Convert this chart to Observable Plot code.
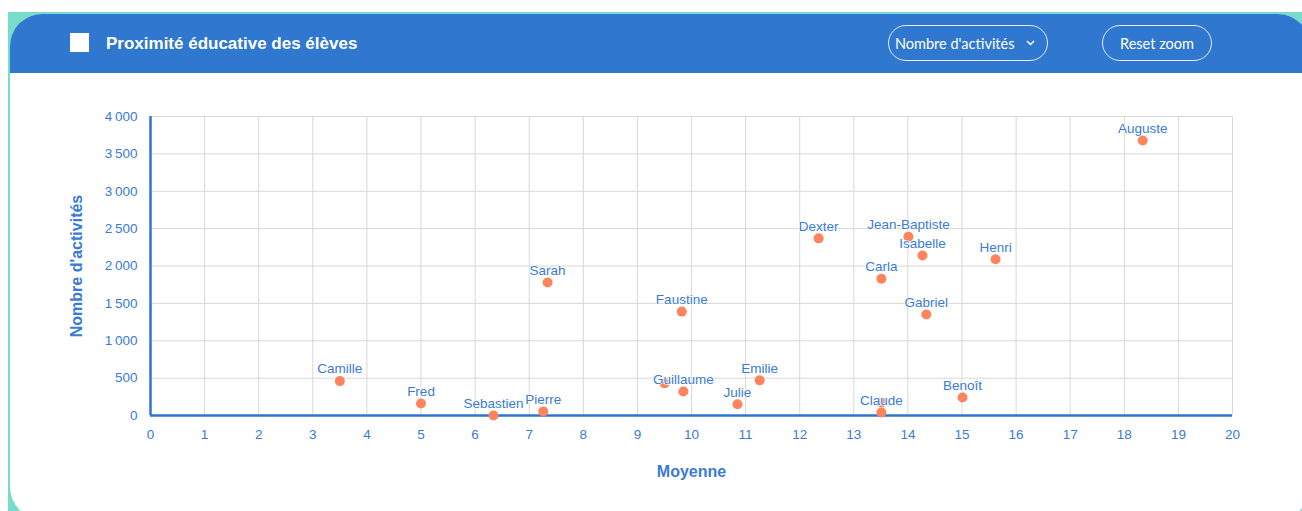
<!DOCTYPE html>
<html>
<head>
<meta charset="utf-8">
<script src="https://cdn.jsdelivr.net/npm/d3@7"></script>
<script src="https://cdn.jsdelivr.net/npm/@observablehq/plot@0.6"></script>
<style>
  html, body { margin: 0; padding: 0; width: 1302px; height: 511px; overflow: hidden; background: #fff; }
  #teal { position: absolute; left: 8px; top: 12px; width: 1294px; height: 499px; background: #78dcca; }
  #card { position: absolute; left: 10px; top: 14px; width: 1300px; height: 505px; background: #fff; border-radius: 32px; overflow: hidden; }
  #header { position: absolute; left: 0; top: 0; width: 100%; height: 59px; background: #3077cf; }
  #square { position: absolute; left: 60px; top: 19px; width: 19px; height: 19px; background: #fff; }
  #title { position: absolute; left: 96px; top: 20px; font: bold 17px "Liberation Sans", Arial, sans-serif; color: #fff; }
  .btn { position: absolute; top: 11px; height: 36px; border: 1.5px solid #e8eefa; border-radius: 18px; box-sizing: border-box;
         font: 14.5px Lato, "Open Sans", sans-serif; color: #fff; display: flex; align-items: center; }
  #sel { left: 878px; width: 160px; padding-left: 6px; }
  #sel svg { margin-left: 12px; }
  #reset { left: 1092px; width: 110px; justify-content: center; }
  #chart { position: absolute; left: 0; top: 80px; }
</style>
</head>
<body>
<div id="teal"></div>
<div id="card">
  <div id="header">
    <div id="square"></div>
    <div id="title">Proximité éducative des élèves</div>
    <div class="btn" id="sel">Nombre d'activités<svg width="9" height="6" viewBox="0 0 9 6"><path d="M1 1 L4.5 4.5 L8 1" fill="none" stroke="#fff" stroke-width="1.5"/></svg></div>
    <div class="btn" id="reset">Reset zoom</div>
  </div>
</div>
<div id="chart"></div>
<script>
const names = ["Camille", "Fred", "Sebastien", "Pierre", "", "Guillaume", "Julie", "Emilie", "Sarah", "Faustine",
               "Dexter", "Jean-Baptiste", "Isabelle", "Henri", "Carla", "Gabriel", "Benoît", "", "Claude", "Auguste"];
const moyenne = [3.5, 5.0, 6.34, 7.26, 9.5, 9.85, 10.85, 11.26, 7.34, 9.82,
                 12.35, 14.01, 14.27, 15.62, 13.51, 14.34, 15.01, 13.51, 13.51, 18.34];
const activites = [460, 160, 0, 55, 430, 320, 150, 470, 1780, 1390,
                   2370, 2390, 2140, 2090, 1830, 1350, 240, 175, 40, 3680];
const xTicks = d3.range(0, 21, 1);
const yTicks = d3.range(0, 4001, 500);

const data = names.map((n, i) => ({name: n, x: moyenne[i], y: activites[i]}));
const blue = "#3a7bd5";
const axisBlue = "#2f74d0";
const fr = d3.formatLocale({decimal: ",", thousands: "\u2009", grouping: [3], currency: ["", ""]});
const fmt = fr.format(",d");

const chart = Plot.plot({
  width: 1302,
  height: 420,
  marginLeft: 150,
  marginRight: 70,
  marginTop: 36,
  marginBottom: 85,
  style: {fontFamily: "'Liberation Sans', Arial, sans-serif", fontSize: "13.5px", background: "transparent"},
  x: {domain: [0, 20]},
  y: {domain: [0, 4000]},
  marks: [
    Plot.gridX(xTicks, {stroke: "#d8d8d8", strokeOpacity: 1, strokeWidth: 1}),
    Plot.gridY(yTicks, {stroke: "#d8d8d8", strokeOpacity: 1, strokeWidth: 1}),
    Plot.axisX(xTicks, {tickSize: 0, tickPadding: 14, fill: blue, label: null, fontSize: 13.5}),
    Plot.axisY(yTicks, {tickSize: 0, tickPadding: 13, fill: blue, label: null, tickFormat: fmt, fontSize: 13.5}),
    Plot.ruleX([0], {stroke: axisBlue, strokeWidth: 2.5}),
    Plot.ruleY([0], {stroke: axisBlue, strokeWidth: 2.5}),
    Plot.dot(data, {x: "x", y: "y", r: 5, fill: "#fd845c", stroke: null}),
    Plot.text(data, {x: "x", y: "y", text: "name", dy: -12, fill: blue, fontSize: 13.5,
                     stroke: "white", strokeWidth: 1.5, paintOrder: "stroke"}),
    Plot.text(["Moyenne"], {frameAnchor: "bottom", dy: 56, fill: blue, fontWeight: "bold", fontSize: 16,
                            textAnchor: "middle", lineAnchor: "middle"}),
    Plot.text(["Nombre d'activités"], {frameAnchor: "left", dx: -74, rotate: -90, fill: blue, fontWeight: "bold", fontSize: 16,
                                       textAnchor: "middle", lineAnchor: "middle"})
  ]
});
document.getElementById("chart").appendChild(chart);
</script>
</body>
</html>
